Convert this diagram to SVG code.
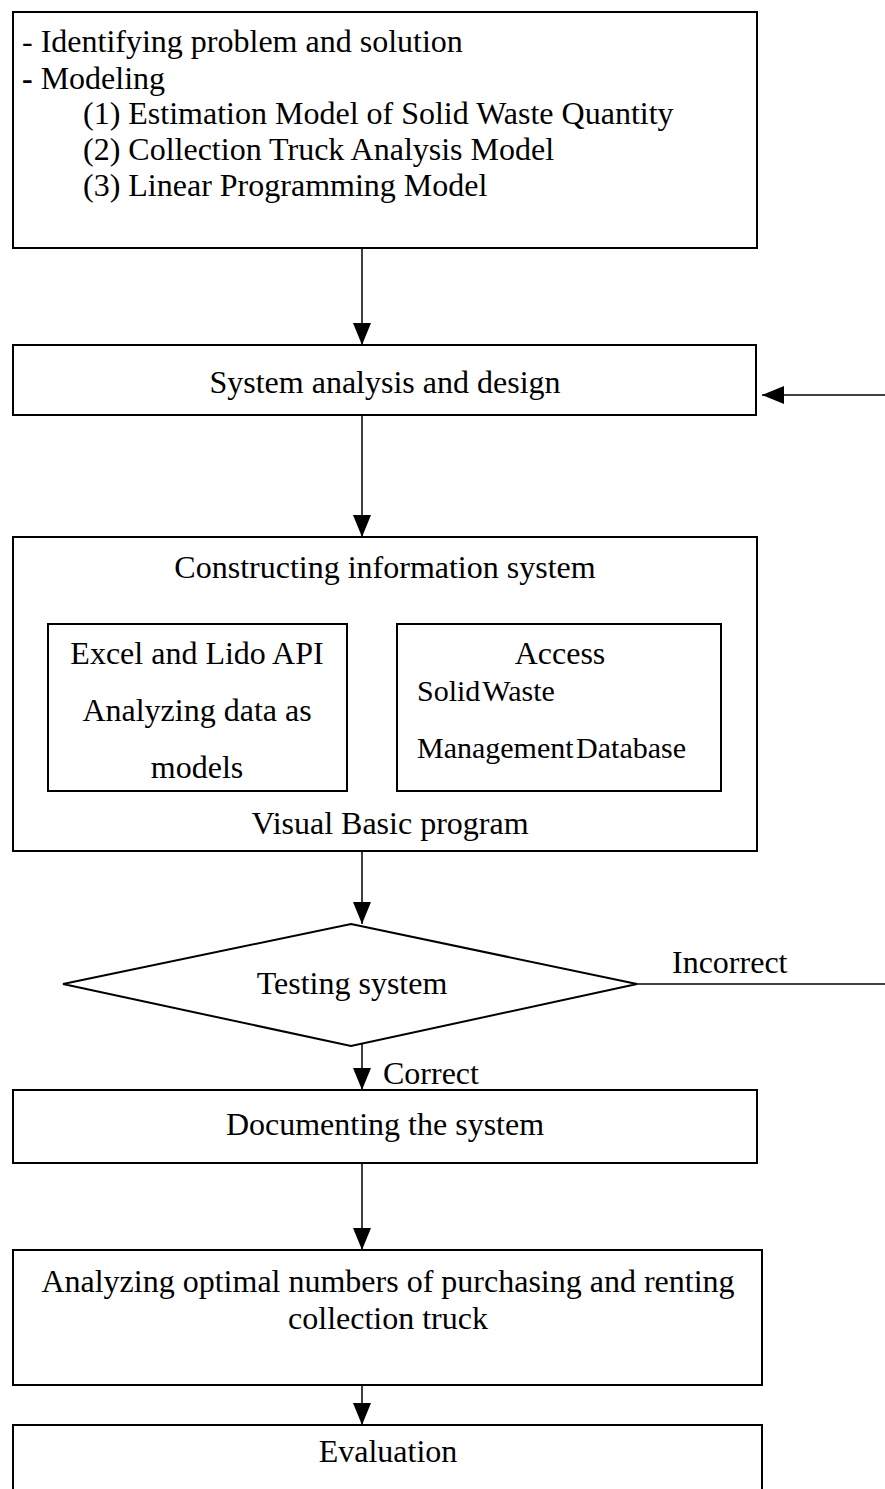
<svg xmlns="http://www.w3.org/2000/svg" width="885" height="1489" viewBox="0 0 885 1489">
<defs>
<marker id="ah" markerWidth="22" markerHeight="18" refX="22" refY="9" orient="auto" markerUnits="userSpaceOnUse" viewBox="0 0 22 18">
<path d="M0,0 L22,9 L0,18 Z" fill="#000"/>
</marker>
<style>
.box{fill:#fff;stroke:#000;stroke-width:2}
.ln{fill:none;stroke:#000;stroke-width:1.5}
text{font-family:"Liberation Serif","Times New Roman",serif;font-size:32px;fill:#000}
.c{text-anchor:middle}
</style>
</defs>
<rect width="885" height="1489" fill="#fff"/>
<g id="n-problem">
<rect class="box" x="13" y="12" width="744" height="236"/>
<text x="22" y="52">- Identifying problem and solution</text>
<text x="22" y="89"><tspan font-weight="bold">-</tspan> Modeling</text>
<text x="83" y="124">(1) Estimation Model of Solid Waste Quantity</text>
<text x="83" y="160">(2) Collection Truck Analysis Model</text>
<text x="83" y="196">(3) Linear Programming Model</text>
</g>
<g id="n-analysis">
<rect class="box" x="13" y="345" width="743" height="70"/>
<text class="c" x="385" y="393">System analysis and design</text>
</g>
<g id="n-construct">
<rect class="box" x="13" y="537" width="744" height="314"/>
<text class="c" x="385" y="578">Constructing information system</text>
<text class="c" x="390" y="834">Visual Basic program</text>
</g>
<g id="n-excel">
<rect class="box" x="48" y="624" width="299" height="167"/>
<text class="c" x="197" y="664">Excel and Lido API</text>
<text class="c" x="197" y="721">Analyzing data as</text>
<text class="c" x="197" y="778">models</text>
</g>
<g id="n-access">
<rect class="box" x="397" y="624" width="324" height="167"/>
<text class="c" x="560" y="664">Access</text>
<text x="417" y="701" style="font-size:30px;word-spacing:-5px">Solid Waste</text>
<text x="417" y="758" style="font-size:30px;word-spacing:-5px">Management Database</text>
</g>
<g id="n-testing">
<polygon class="box" points="351,924 637,984 351,1046 63,984"/>
<text class="c" x="352" y="994">Testing system</text>
</g>
<g id="n-doc">
<rect class="box" x="13" y="1090" width="744" height="73"/>
<text class="c" x="385" y="1135">Documenting the system</text>
</g>
<g id="n-optimal">
<rect class="box" x="13" y="1250" width="749" height="135"/>
<text class="c" x="388" y="1292">Analyzing optimal numbers of purchasing and renting</text>
<text class="c" x="388" y="1329">collection truck</text>
</g>
<g id="n-eval">
<rect class="box" x="13" y="1425" width="749" height="80"/>
<text class="c" x="388" y="1462">Evaluation</text>
</g>
<g id="connectors">
<line class="ln" x1="362" y1="249" x2="362" y2="345" marker-end="url(#ah)"/>
<line class="ln" x1="885" y1="395" x2="762" y2="395" marker-end="url(#ah)"/>
<line class="ln" x1="362" y1="416" x2="362" y2="537" marker-end="url(#ah)"/>
<line class="ln" x1="362" y1="852" x2="362" y2="924" marker-end="url(#ah)"/>
<line class="ln" x1="637" y1="984" x2="885" y2="984"/>
<text x="672" y="973">Incorrect</text>
<line class="ln" x1="362" y1="1044" x2="362" y2="1090" marker-end="url(#ah)"/>
<text x="383" y="1084">Correct</text>
<line class="ln" x1="362" y1="1164" x2="362" y2="1250" marker-end="url(#ah)"/>
<line class="ln" x1="362" y1="1386" x2="362" y2="1425" marker-end="url(#ah)"/>
</g>
</svg>
